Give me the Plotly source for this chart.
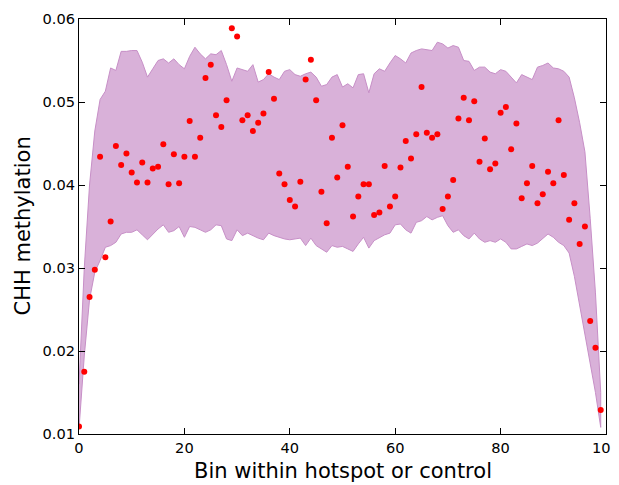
import plotly.graph_objects as go

bins = list(range(100))

chh_mean = [
    0.0109, 0.0175, 0.0265, 0.0298, 0.0434, 0.0313, 0.0356, 0.0447, 0.0424, 0.0438,
    0.0415, 0.0403, 0.0427, 0.0403, 0.0420, 0.0422, 0.0449, 0.0401, 0.0437, 0.0402,
    0.0434, 0.0477, 0.0434, 0.0457, 0.0529, 0.0545, 0.0484, 0.0470, 0.0502, 0.0589,
    0.0579, 0.0478, 0.0484, 0.0465, 0.0475, 0.0486, 0.0536, 0.0504, 0.0414, 0.0401,
    0.0382, 0.0374, 0.0404, 0.0527, 0.0551, 0.0502, 0.0392, 0.0354, 0.0457, 0.0409,
    0.0472, 0.0422, 0.0362, 0.0386, 0.0401, 0.0401, 0.0364, 0.0367, 0.0423, 0.0374,
    0.0386, 0.0421, 0.0453, 0.0432, 0.0461, 0.0518, 0.0463, 0.0457, 0.0461, 0.0371,
    0.0386, 0.0406, 0.0480, 0.0505, 0.0478, 0.0501, 0.0428, 0.0456, 0.0419, 0.0426,
    0.0487, 0.0494, 0.0443, 0.0474, 0.0384, 0.0402, 0.0423, 0.0378, 0.0389, 0.0416,
    0.0402, 0.0478, 0.0412, 0.0358, 0.0378, 0.0329, 0.0350, 0.0236, 0.0204, 0.0129,
]

band_upper = [
    0.0160, 0.0300, 0.0400, 0.0465, 0.0503, 0.0513, 0.0541, 0.0538, 0.0561, 0.0561,
    0.0562, 0.0562, 0.0548, 0.0530, 0.0540, 0.0550, 0.0552, 0.0547, 0.0552, 0.0545,
    0.0540, 0.0555, 0.0566, 0.0558, 0.0552, 0.0558, 0.0557, 0.0562, 0.0545, 0.0525,
    0.0541, 0.0539, 0.0537, 0.0545, 0.0524, 0.0527, 0.0534, 0.0530, 0.0527, 0.0537,
    0.0539, 0.0533, 0.0531, 0.0534, 0.0536, 0.0530, 0.0519, 0.0521, 0.0530, 0.0533,
    0.0518, 0.0522, 0.0517, 0.0533, 0.0534, 0.0511, 0.0534, 0.0540, 0.0537, 0.0547,
    0.0556, 0.0552, 0.0547, 0.0559, 0.0562, 0.0564, 0.0563, 0.0562, 0.0572, 0.0570,
    0.0565, 0.0568, 0.0566, 0.0550, 0.0549, 0.0538, 0.0542, 0.0542, 0.0536, 0.0534,
    0.0539, 0.0537, 0.0530, 0.0523, 0.0533, 0.0530, 0.0527, 0.0542, 0.0544, 0.0547,
    0.0541, 0.0540, 0.0537, 0.0530, 0.0505, 0.0475, 0.0440, 0.0360, 0.0270, 0.0150,
]

band_lower = [
    0.0106, 0.0194, 0.0262, 0.0295, 0.0309, 0.0325, 0.0327, 0.0331, 0.0341, 0.0343,
    0.0343, 0.0346, 0.0340, 0.0334, 0.0341, 0.0347, 0.0352, 0.0343, 0.0345, 0.0350,
    0.0337, 0.0350, 0.0349, 0.0346, 0.0343, 0.0346, 0.0352, 0.0351, 0.0335, 0.0333,
    0.0346, 0.0339, 0.0342, 0.0339, 0.0336, 0.0334, 0.0342, 0.0339, 0.0337, 0.0335,
    0.0334, 0.0335, 0.0336, 0.0327, 0.0336, 0.0327, 0.0323, 0.0319, 0.0327, 0.0325,
    0.0326, 0.0323, 0.0320, 0.0329, 0.0337, 0.0324, 0.0333, 0.0336, 0.0340, 0.0342,
    0.0352, 0.0353, 0.0346, 0.0342, 0.0355, 0.0357, 0.0362, 0.0358, 0.0361, 0.0363,
    0.0351, 0.0343, 0.0346, 0.0339, 0.0335, 0.0342, 0.0335, 0.0331, 0.0333, 0.0331,
    0.0335, 0.0331, 0.0323, 0.0323, 0.0326, 0.0329, 0.0327, 0.0330, 0.0335, 0.0341,
    0.0337, 0.0331, 0.0327, 0.0318, 0.0290, 0.0255, 0.0220, 0.0185, 0.0150, 0.0108,
]

x_ticks = [0, 20, 40, 60, 80, 100]
y_ticks = [0.01, 0.02, 0.03, 0.04, 0.05, 0.06]
x_title = "Bin within hotspot or control"
y_title = "CHH methylation"

FONT = "DejaVu Sans"

fig = go.Figure()
fig.add_trace(go.Scatter(
    x=bins + bins[::-1],
    y=band_upper + band_lower[::-1],
    fill="toself",
    fillcolor="#d9b1d9",
    line=dict(color="#c78fc7", width=1),
    mode="lines",
    hoverinfo="skip",
    showlegend=False,
))
fig.add_trace(go.Scatter(
    x=bins, y=chh_mean, mode="markers",
    marker=dict(color="#ff0000", size=6, line=dict(width=0)),
    showlegend=False,
))

axis_common = dict(
    showgrid=False, zeroline=False, showline=True, linecolor="#000000", linewidth=1,
    mirror="allticks", ticks="inside", ticklen=6, tickwidth=1, tickcolor="#000000",
    tickfont=dict(family=FONT, size=14.6, color="#000000"),
    automargin=False, ticklabeloverflow="allow",
)

fig.update_xaxes(range=[0, 100], tickvals=x_ticks, ticktext=[str(v) for v in x_ticks], **axis_common)
fig.update_yaxes(range=[0.01, 0.06], tickvals=y_ticks, ticktext=[f"{v:.2f}" for v in y_ticks], **axis_common)

# axis titles as paper-anchored annotations so their pixel placement is exact
fig.add_annotation(text=x_title, xref="paper", yref="paper", x=0.5, y=0,
                   yanchor="middle", xanchor="center", yshift=-37, showarrow=False,
                   font=dict(family=FONT, size=21, color="#000000"))
fig.add_annotation(text=y_title, xref="paper", yref="paper", x=0, y=0.5,
                   xanchor="center", yanchor="middle", xshift=-57, textangle=-90, showarrow=False,
                   font=dict(family=FONT, size=21, color="#000000"))

# the page body has an 8px default margin, so margins are offset to place the plot frame
fig.update_layout(
    width=619, height=485,
    margin=dict(l=71, r=21, t=11, b=59),
    paper_bgcolor="#ffffff", plot_bgcolor="#ffffff",
    font=dict(family=FONT, color="#000000"),
)

fig.write_html("out.html")
